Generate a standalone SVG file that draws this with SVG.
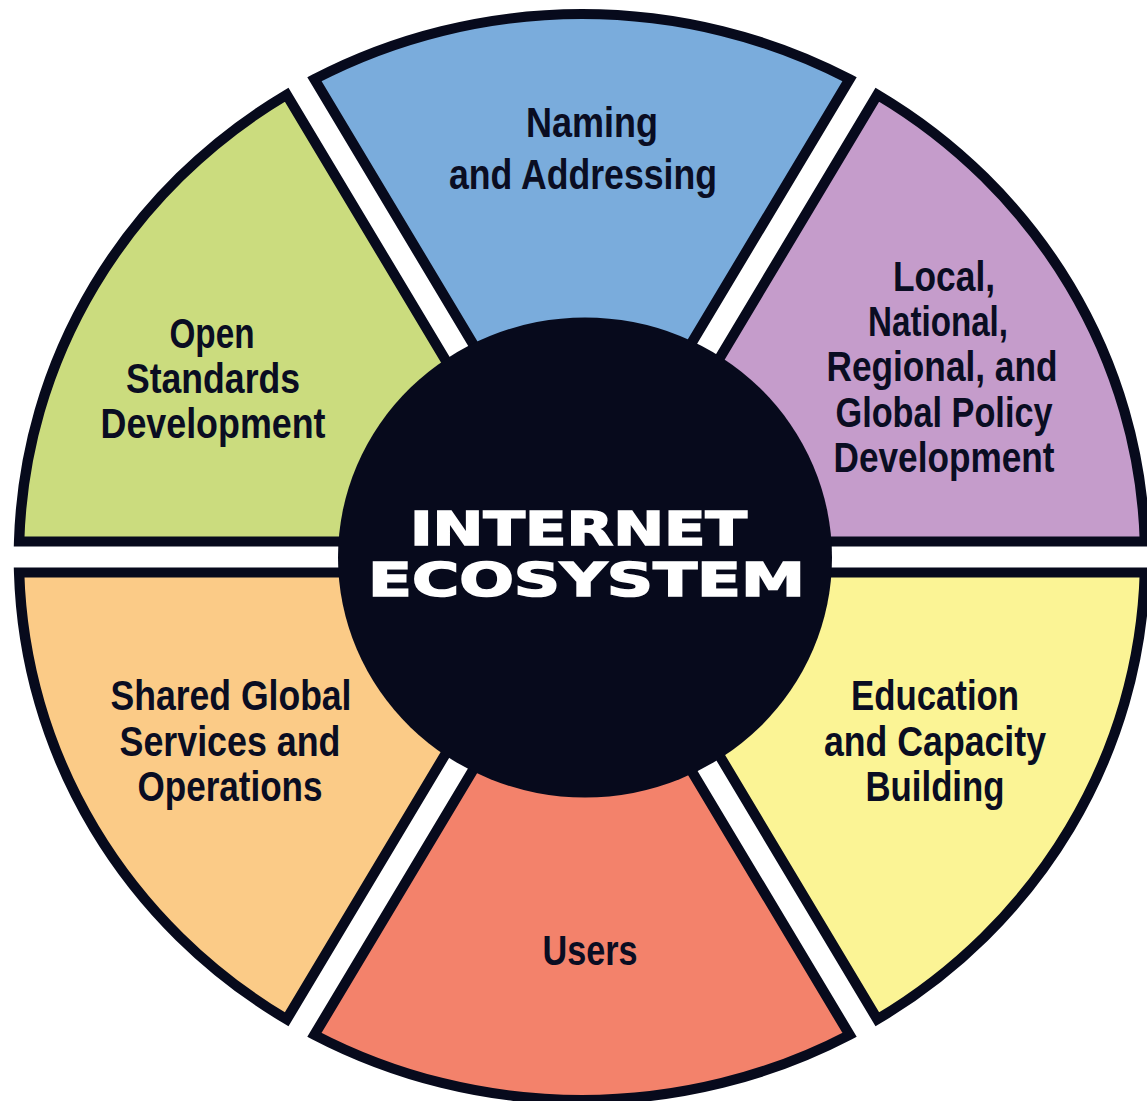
<svg xmlns="http://www.w3.org/2000/svg" width="1147" height="1101" viewBox="0 0 1147 1101">
<style>
.seg{stroke:#070a1c;stroke-width:10;stroke-linejoin:miter;stroke-miterlimit:10}
.lbl{font-family:"Liberation Sans","Arial",sans-serif;font-weight:bold;font-size:43px;fill:#0a0d22;text-anchor:middle}
.hub{font-family:"DejaVu Sans","Liberation Sans",sans-serif;font-weight:bold;font-size:46px;fill:#ffffff;stroke:#ffffff;stroke-width:1.6;text-anchor:middle}
</style>
<rect width="1147" height="1101" fill="#ffffff"/>
<g id="wheel" transform="translate(582,557) scale(1.037,1)">
<path id="seg-naming" class="seg" fill="#7aacdc" d="M0,-31 L-258,-477.8 A543,543 0 0 1 258,-477.8 Z"/>
<path id="seg-policy" class="seg" fill="#c59ccb" d="M26.85,-15.5 L284.8,-462.3 A543,543 0 0 1 542.8,-15.5 Z"/>
<path id="seg-education" class="seg" fill="#fbf495" d="M26.85,15.5 L542.8,15.5 A543,543 0 0 1 284.8,462.3 Z"/>
<path id="seg-users" class="seg" fill="#f3826b" d="M0,31 L258,477.8 A543,543 0 0 1 -258,477.8 Z"/>
<path id="seg-shared" class="seg" fill="#fbcb87" d="M-26.85,15.5 L-284.8,462.3 A543,543 0 0 1 -542.8,15.5 Z"/>
<path id="seg-standards" class="seg" fill="#cbdc7e" d="M-26.85,-15.5 L-542.8,-15.5 A543,543 0 0 1 -284.8,-462.3 Z"/>
</g>
<g id="hub">
<ellipse cx="585" cy="557.5" rx="247" ry="240" fill="#070a1c"/>
<text class="hub" x="578.5" y="545" textLength="337" lengthAdjust="spacingAndGlyphs">INTERNET</text>
<text class="hub" x="586.5" y="596" textLength="437" lengthAdjust="spacingAndGlyphs">ECOSYSTEM</text>
</g>
<g id="node-naming">
<text class="lbl" x="592" y="137" textLength="132" lengthAdjust="spacingAndGlyphs">Naming</text>
<text class="lbl" x="583" y="189" textLength="268" lengthAdjust="spacingAndGlyphs">and Addressing</text>
</g>
<g id="node-policy">
<text class="lbl" x="944" y="291" textLength="102" lengthAdjust="spacingAndGlyphs">Local,</text>
<text class="lbl" x="938" y="336" textLength="140" lengthAdjust="spacingAndGlyphs">National,</text>
<text class="lbl" x="942" y="381" textLength="231" lengthAdjust="spacingAndGlyphs">Regional, and</text>
<text class="lbl" x="944" y="427" textLength="217" lengthAdjust="spacingAndGlyphs">Global Policy</text>
<text class="lbl" x="944" y="472" textLength="221" lengthAdjust="spacingAndGlyphs">Development</text>
</g>
<g id="node-standards">
<text class="lbl" x="212" y="348" textLength="85" lengthAdjust="spacingAndGlyphs">Open</text>
<text class="lbl" x="213" y="393" textLength="174" lengthAdjust="spacingAndGlyphs">Standards</text>
<text class="lbl" x="213" y="438" textLength="225" lengthAdjust="spacingAndGlyphs">Development</text>
</g>
<g id="node-shared">
<text class="lbl" x="231" y="710" textLength="241" lengthAdjust="spacingAndGlyphs">Shared Global</text>
<text class="lbl" x="230" y="756" textLength="221" lengthAdjust="spacingAndGlyphs">Services and</text>
<text class="lbl" x="230" y="801" textLength="185" lengthAdjust="spacingAndGlyphs">Operations</text>
</g>
<g id="node-education">
<text class="lbl" x="935" y="710" textLength="168" lengthAdjust="spacingAndGlyphs">Education</text>
<text class="lbl" x="935" y="756" textLength="222" lengthAdjust="spacingAndGlyphs">and Capacity</text>
<text class="lbl" x="935" y="801" textLength="139" lengthAdjust="spacingAndGlyphs">Building</text>
</g>
<g id="node-users">
<text class="lbl" x="590" y="965" textLength="95" lengthAdjust="spacingAndGlyphs">Users</text>
</g>
</svg>
